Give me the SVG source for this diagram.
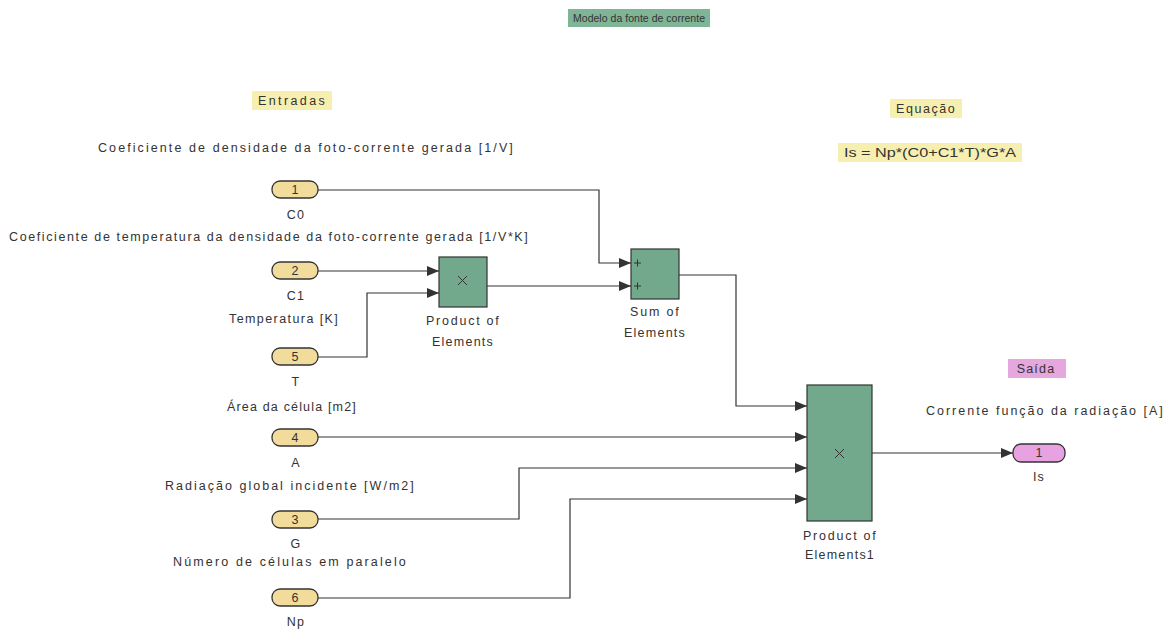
<svg xmlns="http://www.w3.org/2000/svg" width="1170" height="633" viewBox="0 0 1170 633">
  <style>
    text { font-family: "Liberation Sans", Arial, sans-serif; fill: #333; }
    .lbl { font-size: 12.5px; letter-spacing: 1.2px; text-anchor: middle; }
    .num { font-size: 12.5px; text-anchor: middle; }
    .inport { fill: #f2dc9c; stroke: #333; stroke-width: 1.3; }
    .outport { fill: #e8a2e2; stroke: #333; stroke-width: 1.3; }
    .block { fill: #72a88c; stroke: #333; stroke-width: 1.2; }
    .note { fill: #f7efb0; }
    .wire { fill: none; stroke: #333; stroke-width: 1.2; }
    .op { fill: none; stroke: #333; stroke-width: 1; }
  </style>
  <defs>
    <marker id="arr" viewBox="0 0 12 10" refX="12" refY="5" markerWidth="12" markerHeight="10" markerUnits="userSpaceOnUse" orient="auto">
      <path d="M0,0 L12,5 L0,10 z" fill="#333"/>
    </marker>
  </defs>
  <rect width="1170" height="633" fill="#fff"/>

  <!-- annotations -->
  <g id="title">
    <rect x="568" y="9" width="142" height="18" fill="#7fb496"/>
    <text x="639" y="22" style="font-size:10.5px;text-anchor:middle" textLength="132" lengthAdjust="spacing">Modelo da fonte de corrente</text>
  </g>
  <g id="entradas">
    <rect x="252" y="91" width="80" height="19" class="note"/>
    <text class="lbl" x="292" y="105" textLength="68" lengthAdjust="spacing">Entradas</text>
  </g>
  <g id="equacao">
    <rect x="890" y="99" width="72" height="19" class="note"/>
    <text class="lbl" x="926" y="113" textLength="60" lengthAdjust="spacing">Equação</text>
    <rect x="838" y="143" width="184" height="19" class="note"/>
    <text x="930" y="157" style="font-size:13px;text-anchor:middle" textLength="172" lengthAdjust="spacingAndGlyphs">Is = Np*(C0+C1*T)*G*A</text>
  </g>
  <g id="saida">
    <rect x="1008" y="359" width="58" height="19" fill="#e6a6de"/>
    <text class="lbl" x="1036" y="373">Saída</text>
  </g>
  <g id="descriptions">
    <text class="lbl" x="306" y="152" textLength="416" lengthAdjust="spacing">Coeficiente de densidade da foto-corrente gerada [1/V]</text>
    <text class="lbl" x="269" y="241" textLength="520" lengthAdjust="spacing">Coeficiente de temperatura da densidade da foto-corrente gerada [1/V*K]</text>
    <text class="lbl" x="284" y="323" textLength="110" lengthAdjust="spacing">Temperatura [K]</text>
    <text class="lbl" x="292" y="411" textLength="130" lengthAdjust="spacing">Área da célula [m2]</text>
    <text class="lbl" x="290" y="490" textLength="250" lengthAdjust="spacing">Radiação global incidente [W/m2]</text>
    <text class="lbl" x="290" y="566" textLength="234" lengthAdjust="spacing">Número de células em paralelo</text>
    <text class="lbl" x="1045" y="415" textLength="238" lengthAdjust="spacing">Corrente função da radiação [A]</text>
  </g>

  <!-- connectors -->
  <g id="connectors">
    <path class="wire" d="M318,190 H599 V263 H631" marker-end="url(#arr)"/>
    <path class="wire" d="M318,271 H439" marker-end="url(#arr)"/>
    <path class="wire" d="M318,357 H367 V293 H439" marker-end="url(#arr)"/>
    <path class="wire" d="M487,286 H631" marker-end="url(#arr)"/>
    <path class="wire" d="M679,275 H736 V406 H807" marker-end="url(#arr)"/>
    <path class="wire" d="M318,437 H807" marker-end="url(#arr)"/>
    <path class="wire" d="M318,519 H519 V468 H807" marker-end="url(#arr)"/>
    <path class="wire" d="M318,598 H570 V499 H807" marker-end="url(#arr)"/>
    <path class="wire" d="M872,453 H1013" marker-end="url(#arr)"/>
  </g>

  <!-- inports -->
  <g id="in1">
    <rect class="inport" x="272" y="181" width="46" height="17" rx="8"/>
    <text class="num" x="295" y="194">1</text>
    <text class="lbl" x="296" y="219">C0</text>
  </g>
  <g id="in2">
    <rect class="inport" x="272" y="262" width="46" height="17" rx="8"/>
    <text class="num" x="295" y="275">2</text>
    <text class="lbl" x="296" y="300">C1</text>
  </g>
  <g id="in5">
    <rect class="inport" x="272" y="348" width="46" height="17" rx="8"/>
    <text class="num" x="295" y="361">5</text>
    <text class="lbl" x="296" y="386">T</text>
  </g>
  <g id="in4">
    <rect class="inport" x="272" y="429" width="46" height="17" rx="8"/>
    <text class="num" x="295" y="442">4</text>
    <text class="lbl" x="296" y="467">A</text>
  </g>
  <g id="in3">
    <rect class="inport" x="272" y="511" width="46" height="17" rx="8"/>
    <text class="num" x="295" y="524">3</text>
    <text class="lbl" x="296" y="548">G</text>
  </g>
  <g id="in6">
    <rect class="inport" x="272" y="589" width="46" height="17" rx="8"/>
    <text class="num" x="295" y="602">6</text>
    <text class="lbl" x="296" y="626">Np</text>
  </g>

  <!-- blocks -->
  <g id="product">
    <rect class="block" x="439" y="257" width="48" height="50"/>
    <path class="op" d="M458,276 l9,9 M467,276 l-9,9"/>
    <text class="lbl" x="463" y="325" textLength="74" lengthAdjust="spacing">Product of</text>
    <text class="lbl" x="463" y="346" textLength="62" lengthAdjust="spacing">Elements</text>
  </g>
  <g id="sum">
    <rect class="block" x="631" y="249" width="48" height="50"/>
    <path class="op" d="M634,263 h7 M637.5,259.5 v7 M634,286 h7 M637.5,282.5 v7"/>
    <text class="lbl" x="655" y="316" textLength="50" lengthAdjust="spacing">Sum of</text>
    <text class="lbl" x="655" y="337" textLength="62" lengthAdjust="spacing">Elements</text>
  </g>
  <g id="product1">
    <rect class="block" x="807" y="385" width="65" height="136"/>
    <path class="op" d="M835,449 l9,9 M844,449 l-9,9"/>
    <text class="lbl" x="840" y="540" textLength="74" lengthAdjust="spacing">Product of</text>
    <text class="lbl" x="840" y="559" textLength="70" lengthAdjust="spacing">Elements1</text>
  </g>

  <!-- outport -->
  <g id="out1">
    <rect class="outport" x="1013" y="444" width="52" height="18" rx="8"/>
    <text class="num" x="1039" y="457">1</text>
    <text class="lbl" x="1039" y="481">Is</text>
  </g>
</svg>
